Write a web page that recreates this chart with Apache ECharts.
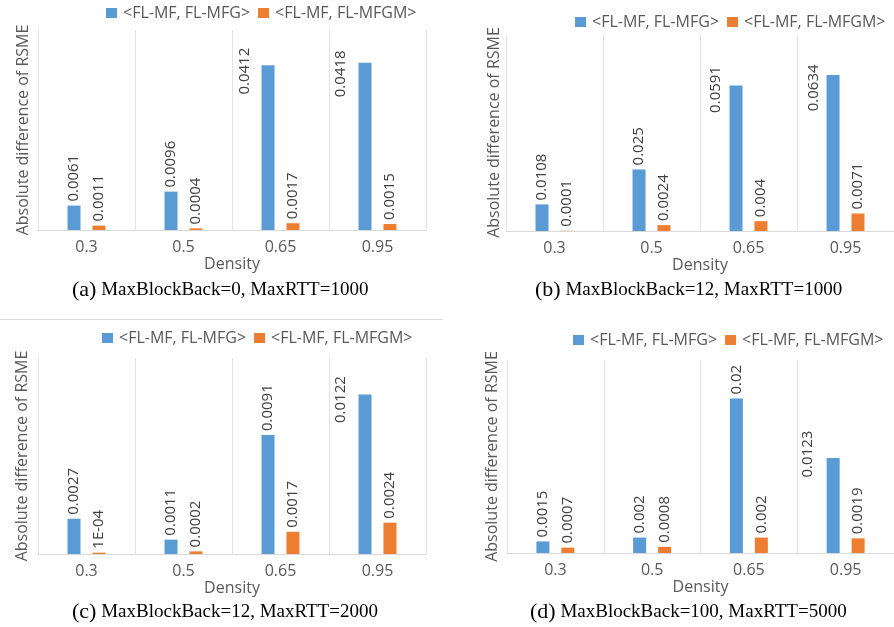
<!DOCTYPE html>
<html>
<head>
<meta charset="utf-8">
<script src="https://cdn.jsdelivr.net/npm/echarts@6/dist/echarts.min.js"></script>
<style>html,body{margin:0;padding:0;background:#fff}#c{width:894px;height:627px}</style>
</head>
<body>
<div id="c"></div>
<script>
// ---- data ----
const categories = ['0.3', '0.5', '0.65', '0.95'];
const seriesNames = ['<FL-MF, FL-MFG>', '<FL-MF, FL-MFGM>'];
const a_mfg  = [0.0061, 0.0096, 0.0412, 0.0418];
const a_mfgm = [0.0011, 0.0004, 0.0017, 0.0015];
const b_mfg  = [0.0108, 0.025, 0.0591, 0.0634];
const b_mfgm = [0.0001, 0.0024, 0.004, 0.0071];
const c_mfg  = [0.0027, 0.0011, 0.0091, 0.0122];
const c_mfgm = [0.0001, 0.0002, 0.0017, 0.0024];
const d_mfg  = [0.0015, 0.002, 0.02, 0.0123];
const d_mfgm = [0.0007, 0.0008, 0.002, 0.0019];
const captionLetters = ['(a)', '(b)', '(c)', '(d)'];
const captionTexts = ['MaxBlockBack=0, MaxRTT=1000', 'MaxBlockBack=12, MaxRTT=1000',
                      'MaxBlockBack=12, MaxRTT=2000', 'MaxBlockBack=100, MaxRTT=5000'];
const yMax = [0.05, 0.08, 0.015, 0.025];
// label text overrides (as printed in the source)
const labelText = { '2-1-0': '1E-04' };

// ---- layout / style ----
const panels = [
  { grid: {left: 38, top: 30, width: 388, height: 200}, legend: {left: 106, top: 5}, yGap: 7,
    caption: {left: 72, top: 279}, side: {2: [-9, 6], 3: [-10, 11]} },
  { grid: {left: 506, top: 34, width: 389, height: 197}, legend: {left: 575, top: 14}, yGap: 4,
    caption: {left: 535, top: 279}, side: {2: [-6, 4], 3: [-5, 13]} },
  { grid: {left: 38, top: 358, width: 388, height: 196}, legend: {left: 102, top: 330}, yGap: 8,
    caption: {left: 72, top: 601}, side: {3: [-10, 5]} },
  { grid: {left: 507, top: 360, width: 388, height: 193}, legend: {left: 573, top: 332}, yGap: 7,
    caption: {left: 530, top: 601}, side: {3: [-11, -4]} }
];
const seriesData = [[a_mfg, a_mfgm], [b_mfg, b_mfgm], [c_mfg, c_mfgm], [d_mfg, d_mfgm]];
const colors = ['#5B9BD5', '#ED7D31'];
const SANS = '"Open Sans", "Noto Sans", sans-serif';
const SERIF = '"Liberation Serif", "Times New Roman", serif';

const option = {
  animation: false,
  backgroundColor: '#fff',
  color: colors,
  grid: [], xAxis: [], yAxis: [], series: [], legend: [], title: [],
  graphic: [{
    type: 'line', shape: {x1: 0, y1: 319.5, x2: 443, y2: 319.5},
    style: {stroke: '#dcdcdc', lineWidth: 1}, silent: true
  }]
};

panels.forEach((p, pi) => {
  option.grid.push(Object.assign({containLabel: false}, p.grid));
  option.xAxis.push({
    type: 'category', gridIndex: pi, data: categories, boundaryGap: true,
    axisLine: {lineStyle: {color: '#d9d9d9', width: 1}},
    axisTick: {show: false},
    splitLine: {show: true, lineStyle: {color: '#e3e3e3', width: 1}},
    axisLabel: {color: '#595959', fontSize: 16, fontFamily: SANS, margin: 9},
    name: 'Density', nameLocation: 'middle', nameGap: 26,
    nameTextStyle: {color: '#595959', fontSize: 16, fontFamily: SANS}
  });
  option.yAxis.push({
    type: 'value', gridIndex: pi, min: 0, max: yMax[pi],
    axisLine: {show: false}, axisTick: {show: false}, axisLabel: {show: false},
    splitLine: {show: false},
    name: 'Absolute difference of RSME', nameLocation: 'middle', nameGap: p.yGap,
    nameTextStyle: {color: '#595959', fontSize: 16, fontFamily: SANS}
  });
  option.legend.push({
    left: p.legend.left, top: p.legend.top, width: 600, padding: 0,
    itemWidth: 11, itemHeight: 10, itemGap: 8,
    icon: 'rect', data: seriesNames,
    textStyle: {color: '#595959', fontSize: 16, fontFamily: SANS, padding: [0, 0, 0, 1]}
  });
  option.title.push({
    left: p.caption.left, top: p.caption.top, padding: 0,
    text: '{l|' + captionLetters[pi] + '} {t|' + captionTexts[pi] + '}',
    textStyle: {
      fontWeight: 'normal', fontFamily: SERIF, fontSize: 19,
      rich: {
        l: {fontFamily: SERIF, fontSize: 22, fontWeight: 'normal', color: '#000'},
        t: {fontFamily: SERIF, fontSize: 19, fontWeight: 'normal', color: '#000'}
      }
    }
  });
  seriesData[pi].forEach((vals, si) => {
    const data = vals.map((v, i) => {
      const item = {value: v};
      if (si === 0 && p.side[i]) {
        item.label = {position: p.side[i], align: 'center', verticalAlign: 'bottom', distance: 0};
      }
      return item;
    });
    option.series.push({
      type: 'bar', name: seriesNames[si], xAxisIndex: pi, yAxisIndex: pi,
      barWidth: 13, barGap: '92%',
      itemStyle: {color: colors[si]},
      data: data,
      label: {
        show: true, position: 'top', rotate: 90, align: 'left', verticalAlign: 'middle',
        distance: 4, fontSize: 15, fontFamily: SANS, color: '#404040',
        formatter: (prm) => {
          const key = pi + '-' + si + '-' + prm.dataIndex;
          return labelText[key] !== undefined ? labelText[key] : String(prm.value);
        }
      }
    });
  });
});

const chart = echarts.init(document.getElementById('c'), null, {renderer: 'canvas'});
chart.setOption(option);
</script>
</body>
</html>
